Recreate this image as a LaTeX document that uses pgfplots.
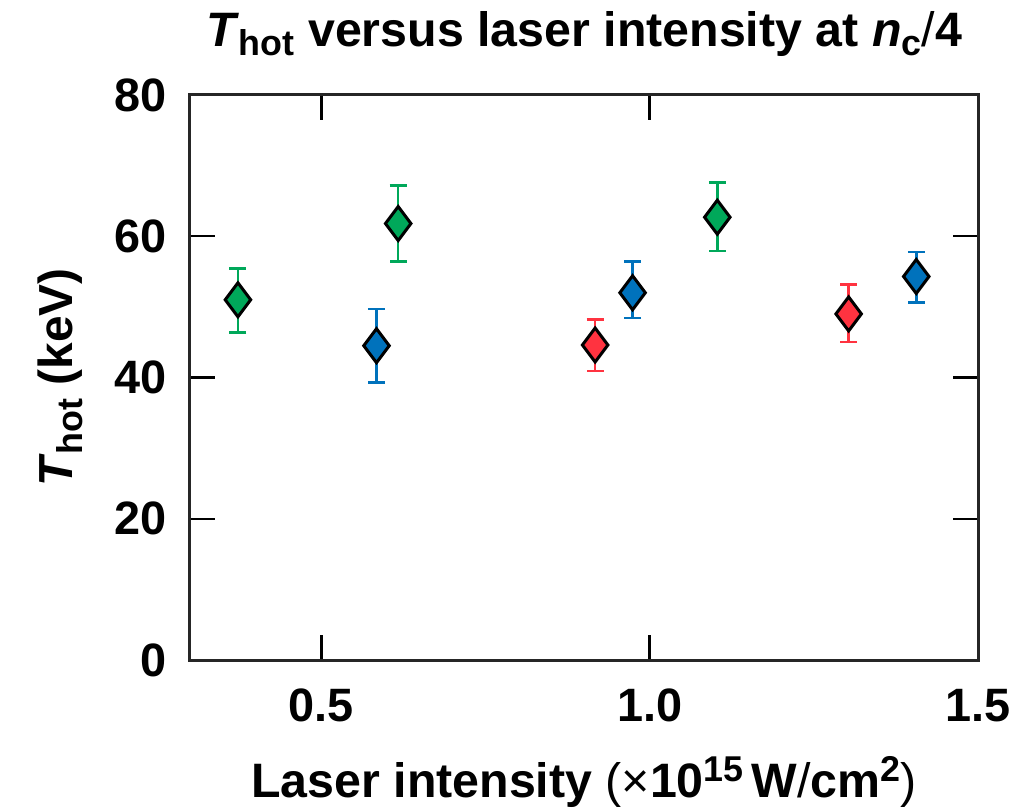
\documentclass[border=0pt]{standalone}
\usepackage{fontspec}
\setmainfont{Liberation Sans}
\usepackage{pgfplots}
\pgfplotsset{compat=1.18}
\usepackage{pgfplotstable}

\definecolor{ptGreen}{RGB}{0,168,90}
\definecolor{ptBlue}{RGB}{0,114,188}
\definecolor{ptRed}{RGB}{255,51,64}

% sub- and superscripts at three quarters of the 48bp label size
\newcommand\tsub[1]{\raisebox{-0.2em}{\fontsize{36}{40}\selectfont #1}}
\newcommand\tsup[1]{\raisebox{0.32em}{\fontsize{36}{40}\selectfont #1}}

% intensity (1e15 W/cm^2), Thot (keV), error plus, error minus
\pgfplotstableread{
x     y     ep   em
0.373 51.0  4.4  4.6
0.617 61.8  5.4  5.4
1.103 62.7  4.9  4.8
}\greendata
\pgfplotstableread{
x     y     ep   em
0.584 44.5  5.2  5.2
0.974 52.0  4.4  3.6
1.406 54.3  3.5  3.7
}\bluedata
\pgfplotstableread{
x     y     ep   em
0.917 44.6  3.6  3.7
1.303 49.0  4.2  4.0
}\reddata

\pgfplotsset{
  thot/.style={
    only marks, mark=diamond*, mark size=17bp,
    mark options={fill=#1, draw=black, line width=3bp, solid},
    error bars/.cd, y dir=both, y explicit,
    error bar style={#1, line width=2.5bp},
    error mark options={#1, line width=2.5bp, mark size=8.5bp, rotate=90},
  },
}

\begin{document}
\begin{tikzpicture}
\begin{axis}[
  name=ax,
  scale only axis,
  width=788bp, height=565bp,
  xmin=0.3, xmax=1.5, ymin=0, ymax=80,
  xtick={0.5,1.0,1.5}, xticklabels={0.5,1.0,1.5},
  ytick={0,20,40,60,80},
  tick pos=both, tick align=inside,
  major tick length=25bp,
  tick style={line width=2.5bp, black},
  axis line style={line width=3bp, black!85},
  ticklabel style={font=\fontsize{47}{52}\selectfont\bfseries, inner sep=0pt},
  /pgf/number format/assume math mode=true,
  xticklabel style={anchor=base, yshift=-61bp},
  yticklabel style={anchor=east, xshift=-23bp},
  title={\textit{T}\tsub{hot} versus laser intensity at \textit{n}\tsub{c}{\mdseries/}4},
  title style={at={(0.5,1)}, anchor=base, yshift=43bp, inner sep=0pt,
    font=\fontsize{48.5}{52}\selectfont\bfseries},
  xlabel={Laser intensity {\mdseries(×}10\tsup{15}\,W{\mdseries/}cm\tsup{2}{\mdseries)}},
  xlabel style={at={(0.5,0)}, anchor=base, yshift=-137bp, inner sep=0pt,
    font=\fontsize{48.5}{52}\selectfont\bfseries},
  ylabel={\textit{T}\tsub{hot} (keV)},
  ylabel style={at={(0,0.5)}, anchor=base, yshift=117bp, inner sep=0pt,
    font=\fontsize{48}{52}\selectfont\bfseries},
  clip=false,
]
\addplot[thot=ptGreen] table[x=x, y=y, y error plus=ep, y error minus=em] {\greendata};
\addplot[thot=ptBlue]  table[x=x, y=y, y error plus=ep, y error minus=em] {\bluedata};
\addplot[thot=ptRed]   table[x=x, y=y, y error plus=ep, y error minus=em] {\reddata};
\end{axis}
\pgfresetboundingbox
\path ([shift={(-190bp,-148bp)}]ax.south west) rectangle ([shift={(58bp,95bp)}]ax.north east);
\end{tikzpicture}
\end{document}
